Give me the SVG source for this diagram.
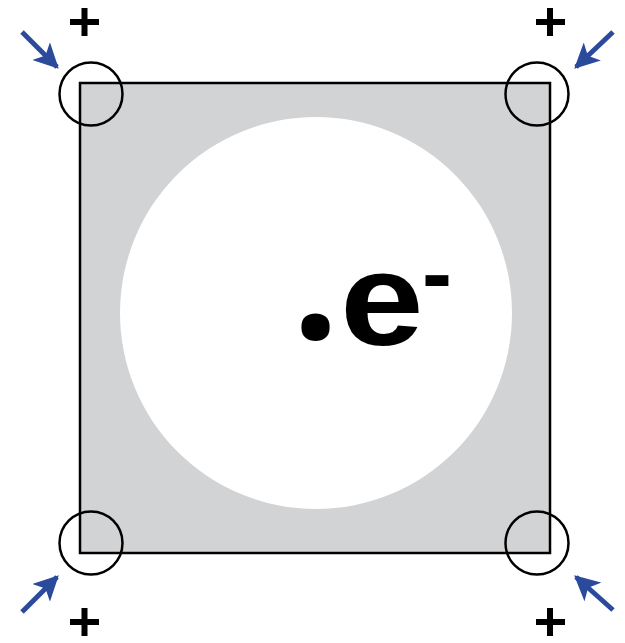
<svg xmlns="http://www.w3.org/2000/svg" width="625" height="643" viewBox="0 0 625 643">
<style>
.ring{fill:none;stroke:#000;stroke-width:2.5}
.plus{stroke:#000;stroke-width:6;fill:none}
.arr{stroke:#2b4a9c;stroke-width:5;fill:none}
.txt{font-family:"Liberation Sans",Arial,sans-serif;font-weight:bold;fill:#000}
</style>
<defs>
<marker id="ah" viewBox="0 0 10 10" refX="9" refY="5" markerWidth="5" markerHeight="5" orient="auto" markerUnits="strokeWidth">
<path d="M0,0 L10,5 L0,10 L2.5,5 Z" fill="#2b4a9c"/>
</marker>
</defs>
<rect width="625" height="643" fill="#fff"/>
<g id="plate">
<rect x="80" y="83" width="470" height="470" fill="#d2d3d5" stroke="#000" stroke-width="2.5"/>
<circle cx="316" cy="313" r="196" fill="#fff"/>
</g>
<g id="label">
<text x="292" y="339" font-size="165" style="font-family:'Open Sans',sans-serif;font-weight:bold">.</text>
<text class="txt" transform="translate(345,345) scale(1.14,1)" x="-4.4" y="0" font-size="132">e</text>
<text class="txt" x="422" y="304" font-size="90">-</text>
</g>
<g id="corner-tl"><circle class="ring" cx="91" cy="94" r="31.5"/><path class="plus" d="M70,22 H99 M84.5,8 V36"/></g>
<g id="corner-tr"><circle class="ring" cx="537" cy="94" r="31.5"/><path class="plus" d="M536,22 H565 M550,8 V36"/></g>
<g id="corner-bl"><circle class="ring" cx="91" cy="543" r="31.5"/><path class="plus" d="M70,622 H99 M84.5,608 V636"/></g>
<g id="corner-br"><circle class="ring" cx="537" cy="543" r="31.5"/><path class="plus" d="M536,622 H565 M550,608 V636"/></g>
<g id="connectors">
<line class="arr" x1="22" y1="32" x2="57" y2="67" marker-end="url(#ah)"/>
<line class="arr" x1="613" y1="32" x2="576" y2="67" marker-end="url(#ah)"/>
<line class="arr" x1="22" y1="612" x2="57" y2="577" marker-end="url(#ah)"/>
<line class="arr" x1="613" y1="610" x2="576" y2="577" marker-end="url(#ah)"/>
</g>
</svg>
